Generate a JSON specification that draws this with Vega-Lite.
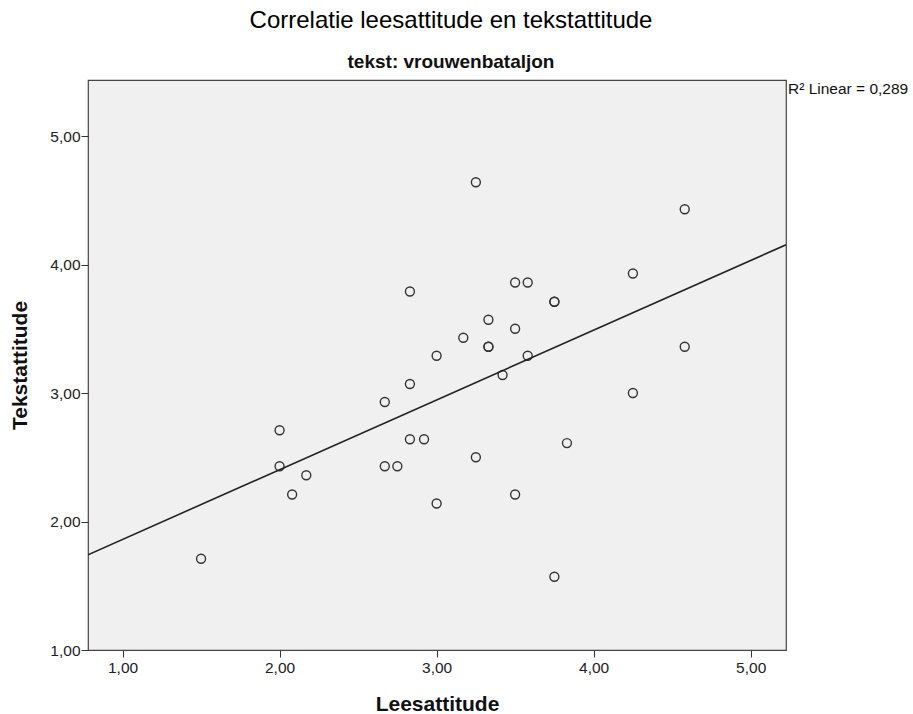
{
  "$schema": "https://vega.github.io/schema/vega-lite/v6.json",
  "autosize": "none",
  "width": 698,
  "height": 570,
  "padding": {"left": 88, "top": 80, "right": 127, "bottom": 64},
  "background": "white",
  "config": {
    "font": "Liberation Sans",
    "view": {"fill": "#f0f0f0", "stroke": "#444444", "strokeWidth": 1.2}
  },
  "title": {
    "text": "Correlatie leesattitude en tekstattitude",
    "subtitle": "tekst: vrouwenbataljon",
    "anchor": "middle",
    "dx": 14,
    "fontSize": 24,
    "fontWeight": "normal",
    "color": "#000000",
    "subtitleFontSize": 19,
    "subtitleFontWeight": "bold",
    "subtitleColor": "#111111",
    "subtitlePadding": 20,
    "offset": 8
  },
  "data": {
    "values": [
      {"lees": 1.50, "tekst": 1.71},
      {"lees": 2.00, "tekst": 2.71},
      {"lees": 2.00, "tekst": 2.43},
      {"lees": 2.17, "tekst": 2.36},
      {"lees": 2.08, "tekst": 2.21},
      {"lees": 2.67, "tekst": 2.93},
      {"lees": 2.67, "tekst": 2.43},
      {"lees": 2.75, "tekst": 2.43},
      {"lees": 2.83, "tekst": 2.64},
      {"lees": 2.92, "tekst": 2.64},
      {"lees": 2.83, "tekst": 3.07},
      {"lees": 2.83, "tekst": 3.79},
      {"lees": 3.00, "tekst": 3.29},
      {"lees": 3.00, "tekst": 2.14},
      {"lees": 3.17, "tekst": 3.43},
      {"lees": 3.25, "tekst": 4.64},
      {"lees": 3.25, "tekst": 2.50},
      {"lees": 3.33, "tekst": 3.57},
      {"lees": 3.33, "tekst": 3.36},
      {"lees": 3.33, "tekst": 3.36},
      {"lees": 3.42, "tekst": 3.14},
      {"lees": 3.50, "tekst": 3.86},
      {"lees": 3.58, "tekst": 3.86},
      {"lees": 3.50, "tekst": 3.50},
      {"lees": 3.58, "tekst": 3.29},
      {"lees": 3.50, "tekst": 2.21},
      {"lees": 3.75, "tekst": 3.71},
      {"lees": 3.75, "tekst": 3.71},
      {"lees": 3.75, "tekst": 1.57},
      {"lees": 3.83, "tekst": 2.61},
      {"lees": 4.25, "tekst": 3.93},
      {"lees": 4.25, "tekst": 3.00},
      {"lees": 4.58, "tekst": 4.43},
      {"lees": 4.58, "tekst": 3.36}
    ]
  },
  "encoding": {
    "x": {
      "field": "lees",
      "type": "quantitative",
      "scale": {"domain": [0.78, 5.225], "nice": false, "zero": false},
      "axis": {
        "title": "Leesattitude",
        "values": [1, 2, 3, 4, 5],
        "format": ".2f",
        "labelExpr": "replace(datum.label, '.', ',')",
        "grid": false,
        "domain": false,
        "tickColor": "#333333",
        "tickSize": 7,
        "labelFontSize": 15.5,
        "labelColor": "#222222",
        "labelPadding": 3,
        "titleFontSize": 21,
        "titleFontWeight": "bold",
        "titleColor": "#111111",
        "titlePadding": 18
      }
    },
    "y": {
      "field": "tekst",
      "type": "quantitative",
      "scale": {"domain": [1, 5.436], "nice": false, "zero": false},
      "axis": {
        "title": "Tekstattitude",
        "values": [1, 2, 3, 4, 5],
        "format": ".2f",
        "labelExpr": "replace(datum.label, '.', ',')",
        "grid": false,
        "domain": false,
        "tickColor": "#333333",
        "tickSize": 7,
        "labelFontSize": 15.5,
        "labelColor": "#222222",
        "labelPadding": 1,
        "titleFontSize": 21,
        "titleFontWeight": "bold",
        "titleColor": "#111111",
        "titlePadding": 19
      }
    }
  },
  "layer": [
    {
      "mark": {"type": "point", "shape": "circle", "filled": false, "size": 80, "stroke": "#333333", "strokeWidth": 1.4, "opacity": 1}
    },
    {
      "transform": [{"regression": "tekst", "on": "lees", "extent": [0.78, 5.225]}],
      "mark": {"type": "line", "color": "#222222", "strokeWidth": 1.6, "clip": true}
    },
    {
      "data": {"values": [{"lees": 5.225, "tekst": 5.436, "label": "R² Linear = 0,289"}]},
      "mark": {"type": "text", "align": "left", "baseline": "top", "dx": 2, "dy": 2, "fontSize": 15.5, "color": "#111111"},
      "encoding": {"text": {"field": "label"}}
    }
  ]
}
